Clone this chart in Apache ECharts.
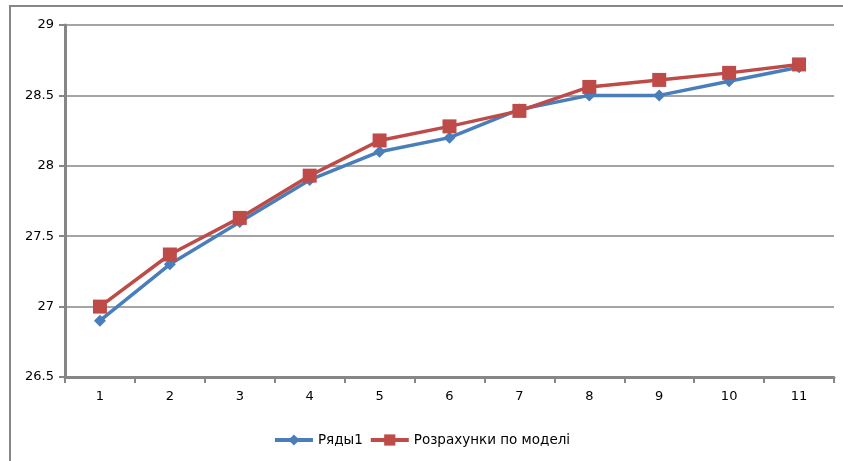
<!DOCTYPE html>
<html><head><meta charset="utf-8">
<script src="https://cdn.jsdelivr.net/npm/echarts@6/dist/echarts.min.js"></script>
<style>html,body{margin:0;padding:0;background:#fff}#c{width:843px;height:461px}</style>
</head><body><div id="c"></div>
<script>
const categories = ['1','2','3','4','5','6','7','8','9','10','11'];
const series1Name = 'Ряды1';
const series2Name = 'Розрахунки по моделі';
const series1 = [26.9, 27.3, 27.6, 27.9, 28.1, 28.2, 28.4, 28.5, 28.5, 28.6, 28.7];
const series2 = [27.0, 27.37, 27.63, 27.93, 28.18, 28.28, 28.39, 28.56, 28.61, 28.66, 28.72];
const yMin = 26.5, yMax = 29, yStep = 0.5;

const chart = echarts.init(document.getElementById('c'));
const font = 'DejaVu Sans';
chart.setOption({
  animation: false,
  backgroundColor: '#fff',
  graphic: [{type:'rect', shape:{x:10,y:6,width:900,height:600}, style:{fill:'none',stroke:'#868686',lineWidth:2}, z:-1}],
  grid: {left: 65, right: 9, top: 25, bottom: 84},
  legend: {
    top: 428, left: 'center', itemGap: 6, itemWidth: 38, itemHeight: 14,
    lineStyle: {width: 4},
    textStyle: {fontFamily: font, fontSize: 13.5, color: '#000'},
    data: [series1Name, series2Name]
  },
  xAxis: {
    type: 'category', data: categories, boundaryGap: true,
    axisLine: {lineStyle: {color: '#868686', width: 3}},
    axisTick: {show: true, length: 6, lineStyle: {color: '#868686', width: 2}},
    axisLabel: {fontFamily: font, fontSize: 13, color: '#000', margin: 13}
  },
  yAxis: {
    type: 'value', min: yMin, max: yMax, interval: yStep,
    axisLine: {show: true, lineStyle: {color: '#868686', width: 3}},
    axisTick: {show: true, length: 6, lineStyle: {color: '#868686', width: 2}},
    axisLabel: {fontFamily: font, fontSize: 13, color: '#000', margin: 11, formatter: v => String(v)},
    splitLine: {show: true, lineStyle: {color: '#868686', width: 1.5}}
  },
  series: [
    {name: series1Name, type: 'line', data: series1, symbol: 'diamond', symbolSize: 12,
     itemStyle: {color: '#4A7EBB'}, lineStyle: {color: '#4A7EBB', width: 3.5}},
    {name: series2Name, type: 'line', data: series2, symbol: 'rect', symbolSize: 14,
     itemStyle: {color: '#BE4B48'}, lineStyle: {color: '#BE4B48', width: 3.5}}
  ]
});
</script></body></html>
